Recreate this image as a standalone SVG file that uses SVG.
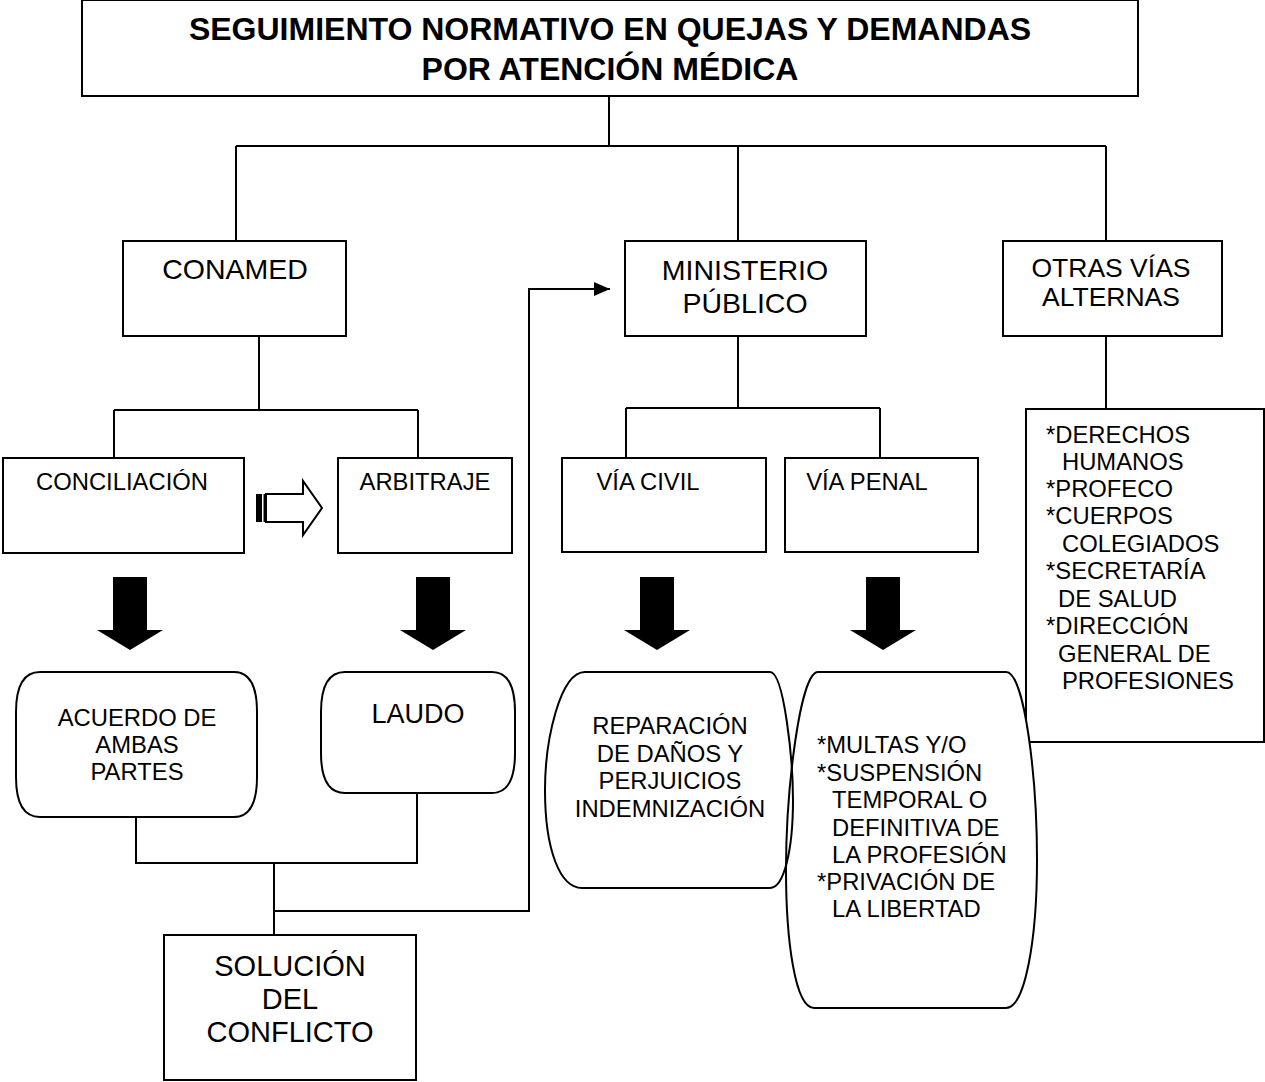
<svg xmlns="http://www.w3.org/2000/svg" width="1265" height="1082" viewBox="0 0 1265 1082">
<style>
.box{fill:#fff;stroke:#000;stroke-width:2}
.shape{stroke:#000;stroke-width:2}
.ln{fill:none;stroke:#000;stroke-width:2}
text{font-family:"Liberation Sans",Arial,sans-serif;fill:#000}
.c{text-anchor:middle}
.t{font-size:32px;font-weight:bold}
.l{font-size:28.5px}
.m{font-size:26.5px}
.s{font-size:23.8px}
.x{font-size:29px}
</style>
<defs>
<marker id="ah" markerWidth="16" markerHeight="14" refX="16" refY="7" orient="auto" markerUnits="userSpaceOnUse">
<path d="M0,0 L16,7 L0,14 Z" fill="#000"/>
</marker>
<path id="blk" d="M-17,0 H17 V53 H33 L0,73 L-33,53 H-17 Z" fill="#000"/>
</defs>
<rect width="1265" height="1082" fill="#fff"/>

<g id="connectors">
<path class="ln" d="M609,96 V146 M236,146 H1106 M236,146 V241 M738,146 V241 M1106,146 V241"/>
<path class="ln" d="M259,336 V410 M114,410 H418 M114,410 V458 M418,410 V458"/>
<path class="ln" d="M738,336 V408 M626,408 H880 M626,408 V458 M880,408 V458"/>
<path class="ln" d="M1106,336 V409"/>
<path class="ln" d="M136,817 V863 H417 V793 M274,863 V935"/>
<path class="ln" d="M274,911 H529 V289 H610" marker-end="url(#ah)"/>
<use href="#blk" x="130" y="577"/>
<use href="#blk" x="433" y="577"/>
<use href="#blk" x="657" y="577"/>
<use href="#blk" x="883" y="577"/>
<g id="hollow-arrow">
<path d="M266,494 H303 V481 L322,508 L303,535 V522 H266 Z" fill="#fff" stroke="#000" stroke-width="2"/>
<rect x="256" y="494" width="6" height="28" fill="#000"/>
<rect x="263.5" y="494" width="2.5" height="28" fill="#000"/>
</g>
</g>

<g id="title"><rect class="box" x="82" y="0" width="1056" height="96"/>
<text class="c t" x="610" y="40">SEGUIMIENTO NORMATIVO EN QUEJAS Y DEMANDAS</text>
<text class="c t" x="610" y="80">POR ATENCIÓN MÉDICA</text></g>

<g id="conamed"><rect class="box" x="123" y="241" width="223" height="95"/>
<text class="c l" x="235" y="279">CONAMED</text></g>

<g id="ministerio"><rect class="box" x="625" y="241" width="241" height="95"/>
<text class="c l" x="745" y="280">MINISTERIO</text>
<text class="c l" x="745" y="313">PÚBLICO</text></g>

<g id="otras"><rect class="box" x="1003" y="241" width="219" height="95"/>
<text class="c m" x="1111" y="277">OTRAS VÍAS</text>
<text class="c m" x="1111" y="306">ALTERNAS</text></g>

<g id="conciliacion"><rect class="box" x="3" y="458" width="241" height="95"/>
<text class="c s" x="122" y="490">CONCILIACIÓN</text></g>

<g id="arbitraje"><rect class="box" x="338" y="458" width="174" height="95"/>
<text class="c s" x="425" y="490">ARBITRAJE</text></g>

<g id="via-civil"><rect class="box" x="562" y="458" width="204" height="94"/>
<text class="c s" x="648" y="490">VÍA CIVIL</text></g>

<g id="via-penal"><rect class="box" x="785" y="458" width="193" height="94"/>
<text class="c s" x="867" y="490">VÍA PENAL</text></g>

<g id="otras-lista"><rect class="box" x="1026" y="409" width="238" height="333"/>
<text class="s" x="1046" y="443">*DERECHOS</text>
<text class="s" x="1062" y="470">HUMANOS</text>
<text class="s" x="1046" y="497">*PROFECO</text>
<text class="s" x="1046" y="524">*CUERPOS</text>
<text class="s" x="1062" y="552">COLEGIADOS</text>
<text class="s" x="1046" y="579">*SECRETARÍA</text>
<text class="s" x="1058" y="607">DE SALUD</text>
<text class="s" x="1046" y="634">*DIRECCIÓN</text>
<text class="s" x="1058" y="662">GENERAL DE</text>
<text class="s" x="1062" y="689">PROFESIONES</text></g>

<g id="acuerdo"><path class="shape" fill="#fff" d="M40,672 H234 Q257,672 257,712 V777 Q257,817 234,817 H40 Q16,817 16,777 V712 Q16,672 40,672 Z"/>
<text class="c s" x="137" y="726">ACUERDO DE</text>
<text class="c s" x="137" y="753">AMBAS</text>
<text class="c s" x="137" y="780">PARTES</text></g>

<g id="laudo"><path class="shape" fill="#fff" d="M345,672 H492 Q515,672 515,712 V753 Q515,793 492,793 H345 Q321,793 321,753 V712 Q321,672 345,672 Z"/>
<text class="c" x="418" y="723" style="font-size:27px">LAUDO</text></g>

<g id="penal-resultado"><path class="shape" fill="#fff" d="M818,672 H1006 C1025,672 1037,780 1037,860 C1037,940 1025,1008 1006,1008 H814 C795,1008 786,940 786,870 C786,790 800,672 818,672 Z"/>
<text class="s" x="817" y="753">*MULTAS Y/O</text>
<text class="s" x="817" y="781">*SUSPENSIÓN</text>
<text class="s" x="832" y="808">TEMPORAL O</text>
<text class="s" x="832" y="836">DEFINITIVA DE</text>
<text class="s" x="832" y="863">LA PROFESIÓN</text>
<text class="s" x="817" y="890">*PRIVACIÓN DE</text>
<text class="s" x="832" y="917">LA LIBERTAD</text></g>

<g id="reparacion"><path class="shape" fill="none" d="M585,672 H770 C784,672 793,760 793,800 C793,850 784,888 770,888 H582 C560,888 545,850 545,790 C545,740 560,672 585,672 Z"/>
<text class="c s" x="670" y="734">REPARACIÓN</text>
<text class="c s" x="670" y="762">DE DAÑOS Y</text>
<text class="c s" x="670" y="789">PERJUICIOS</text>
<text class="c s" x="670" y="817">INDEMNIZACIÓN</text></g>

<g id="solucion"><rect class="box" x="164" y="935" width="252" height="145"/>
<text class="c x" x="290" y="976">SOLUCIÓN</text>
<text class="c x" x="290" y="1009">DEL</text>
<text class="c x" x="290" y="1042">CONFLICTO</text></g>
</svg>
